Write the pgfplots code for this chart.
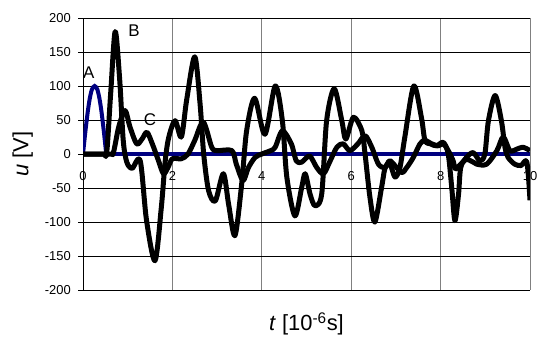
\documentclass[border=0pt]{standalone}
\usepackage{fontspec}
\setmainfont{Liberation Sans}
\usepackage{pgfplots}
\pgfplotsset{compat=1.18}
\definecolor{navy}{HTML}{000080}
\begin{document}
\begin{tikzpicture}
\path[use as bounding box] (0,0) rectangle (537bp,338bp);
\begin{axis}[
  at={(83bp,48bp)}, anchor=south west,
  scale only axis, width=447bp, height=272bp,
  xmin=0, xmax=10, ymin=-200, ymax=200,
  axis x line=middle, axis y line=left,
  hide obscured x ticks=false,
  axis line style={-, black, line width=0.8bp},
  xtick={0,2,4,6,8,10}, xticklabels={0,2,4,6,8,10},
  ytick={-200,-150,-100,-50,0,50,100,150,200},
  yticklabels={-200,-150,-100,-50,0,50,100,150,200},
  grid=major,
  x grid style={gray, line width=0.8bp},
  y grid style={black, line width=0.8bp},
  tick align=outside,
  major tick length=5bp,
  xtick style={draw=none},
  ytick style={black, line width=0.8bp},
  tick label style={font=\fontsize{13}{15}\selectfont},
  xticklabel style={anchor=north, inner sep=0pt, yshift=-12bp},
  yticklabel style={anchor=east, inner sep=0pt, xshift=-7bp},
  every axis x label/.style={at={(axis description cs:0.5,-0.125)}, anchor=center},
  every axis y label/.style={at={(axis description cs:-0.135,0.5)}, anchor=center, rotate=90},
  label style={font=\fontsize{22}{26}\selectfont},
  xlabel={\textit{t} [10\textsuperscript{-6}s]},
  ylabel={\textit{u} [V]},
]
% A
\addplot[navy, line width=4bp, smooth] coordinates {(0,0) (0.05,31) (0.1,59) (0.15,81) (0.2,95) (0.26,100) (0.32,95) (0.37,81) (0.42,59) (0.47,31) (0.52,0)};
\addplot[navy, line width=4bp] coordinates {(0.52,0) (10,0)};
% C
\addplot[black, line width=5bp, smooth, line join=round] coordinates {
(0,0) (0.6,0) (0.68,2) (0.80,40) (0.94,64) (1.05,40) (1.20,15) (1.32,22) (1.43,32) (1.55,15) (1.69,-10) (1.80,-29) (1.90,-20) (2.0,-7) (2.2,-7) (2.35,0) (2.5,20) (2.69,47) (2.88,10) (3.0,5) (3.33,5) (3.43,-15) (3.58,-39) (3.70,-20) (3.85,-5) (4.0,0) (4.2,5) (4.3,10) (4.46,34) (4.66,15) (4.77,-10) (4.89,-12) (5.07,-3) (5.23,-20) (5.38,-29) (5.53,-10) (5.68,10) (5.82,15) (5.97,5) (6.15,15) (6.31,27) (6.46,10) (6.61,-15) (6.76,-20) (6.87,-10) (7.12,-27) (7.24,-20) (7.39,-5) (7.54,15) (7.65,20) (7.8,15) (7.95,12) (8.06,15) (8.17,5) (8.28,-10) (8.33,-22) (8.45,-15) (8.58,-8) (8.73,-12) (8.81,-15) (9.03,-15) (9.26,5) (9.4,25) (9.55,5) (9.7,7) (9.84,10) (10,5)};
% B
\addplot[black, line width=5bp, smooth, line join=round] coordinates {
(0,0) (0.45,0) (0.53,2) (0.62,90) (0.72,180) (0.82,110) (0.90,20) (0.98,-12) (1.10,-21) (1.28,-10) (1.42,-97) (1.61,-157) (1.75,-80) (1.84,-10) (1.92,25) (2.06,49) (2.20,25) (2.32,80) (2.50,143) (2.62,73) (2.70,0) (2.81,-54) (2.96,-69) (3.14,-29) (3.26,-75) (3.40,-120) (3.55,-44) (3.66,34) (3.84,82) (4.07,29) (4.30,100) (4.46,49) (4.56,-34) (4.74,-91) (4.89,-50) (4.97,-29) (5.08,-59) (5.19,-76) (5.34,-59) (5.45,49) (5.62,96) (5.79,49) (5.88,22) (6.05,54) (6.24,34) (6.31,0) (6.42,-64) (6.53,-100) (6.68,-49) (6.76,-20) (6.87,-15) (6.98,-34) (7.09,-20) (7.2,25) (7.4,100) (7.57,54) (7.65,20) (7.77,15) (7.91,12) (8.06,17) (8.17,0) (8.25,-50) (8.32,-98) (8.40,-60) (8.45,-20) (8.58,-5) (8.73,2) (8.88,-10) (8.99,0) (9.07,49) (9.22,86) (9.36,49) (9.44,10) (9.51,-5) (9.66,-15) (9.8,-17) (9.93,-12) (10,-68)};
\node[font=\fontsize{17}{20}\selectfont] at (axis cs:0.13,119) {A};
\node[font=\fontsize{17}{20}\selectfont] at (axis cs:1.14,182) {B};
\node[font=\fontsize{17}{20}\selectfont] at (axis cs:1.5,50) {C};
\end{axis}
\end{tikzpicture}
\end{document}
